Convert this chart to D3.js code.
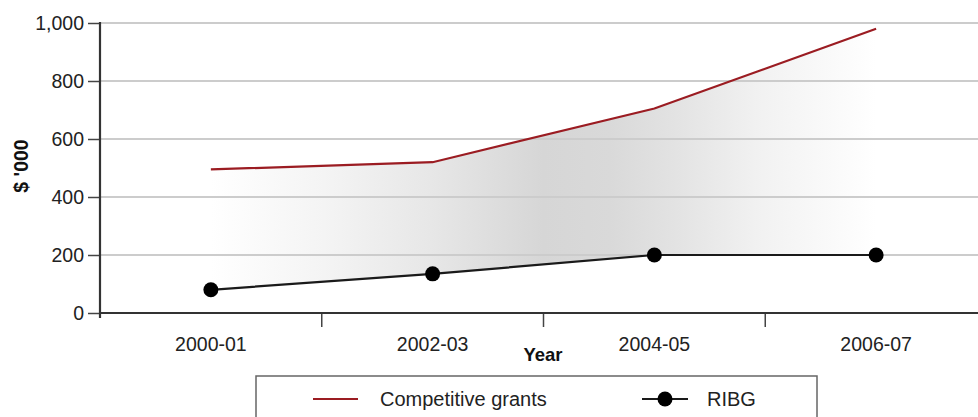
<!DOCTYPE html>
<html><head><meta charset="utf-8">
<script src="https://cdn.jsdelivr.net/npm/d3@7"></script>
<style>body{margin:0;background:#fff}svg{display:block;font-family:"Liberation Sans",Arial,Helvetica,sans-serif}</style>
</head><body><svg id="c" width="978" height="417"></svg>
<script>
const years = ["2000-01","2002-03","2004-05","2006-07"];
const competitive = [495, 520, 705, 980];
const ribg = [80, 135, 200, 200];
const yTicks = [0, 200, 400, 600, 800, 1000];

const svg = d3.select("#c");
const x = d3.scaleBand().domain(years).range([100, 987]).padding(0);
const y = d3.scaleLinear().domain([0, 1000]).range([313, 23]);
const cx = d => x(d) + x.bandwidth() / 2;

const defs = svg.append("defs");
const g = defs.append("linearGradient").attr("id", "shade")
  .attr("gradientUnits", "userSpaceOnUse")
  .attr("x1", cx(years[0])).attr("x2", cx(years[years.length - 1]))
  .attr("y1", 0).attr("y2", 0);
[[0, "#ffffff"], [0.17, "#f4f4f4"], [0.33, "#e7e7e7"], [0.5, "#d6d6d6"], [0.6, "#d9d9d9"], [0.7, "#e3e3e3"], [0.83, "#f2f2f2"], [1, "#ffffff"]]
  .forEach(s => g.append("stop").attr("offset", s[0]).attr("stop-color", s[1]));

// shaded area between series
const rows = years.map((d, i) => ({ d, hi: competitive[i], lo: ribg[i] }));
svg.append("path").datum(rows)
  .attr("fill", "url(#shade)")
  .attr("d", d3.area().x(r => cx(r.d)).y0(r => y(r.lo)).y1(r => y(r.hi)));

// gridlines
svg.append("g").selectAll("line").data(yTicks.filter(t => t > 0)).join("line")
  .attr("x1", 100).attr("x2", 978).attr("y1", d => y(d)).attr("y2", d => y(d))
  .attr("stroke", "#cccccc").attr("stroke-width", 2);

// y axis
const ya = svg.append("g").attr("transform", "translate(100,0)")
  .call(d3.axisLeft(y).tickValues(yTicks).tickFormat(d3.format(",")).tickSize(12).tickPadding(4));
ya.select(".domain").remove();
ya.selectAll(".tick line").attr("stroke", "#444").attr("stroke-width", 1.5);
ya.selectAll("text").attr("font-size", "19.5px").attr("fill", "#222").attr("dy", "0.34em");
svg.append("line").attr("x1", 100).attr("x2", 100).attr("y1", 22).attr("y2", 318)
  .attr("stroke", "#333").attr("stroke-width", 2.2);

// x axis
const xa = svg.append("g").attr("transform", "translate(0,313)")
  .call(d3.axisBottom(x).tickSize(0).tickPadding(24));
xa.select(".domain").remove();
xa.selectAll("text").attr("font-size", "19.5px").attr("fill", "#222");
svg.append("g").selectAll("line").data(years.slice(1)).join("line")
  .attr("x1", d => x(d)).attr("x2", d => x(d)).attr("y1", 313).attr("y2", 327)
  .attr("stroke", "#444").attr("stroke-width", 1.5);
svg.append("line").attr("x1", 99).attr("x2", 978).attr("y1", 313).attr("y2", 313)
  .attr("stroke", "#333").attr("stroke-width", 2.2);

// lines
svg.append("path").datum(competitive)
  .attr("fill", "none").attr("stroke", "#9b1c22").attr("stroke-width", 2.2)
  .attr("d", d3.line().x((v, i) => cx(years[i])).y(v => y(v)));
svg.append("path").datum(ribg)
  .attr("fill", "none").attr("stroke", "#1a1a1a").attr("stroke-width", 2.2)
  .attr("d", d3.line().x((v, i) => cx(years[i])).y(v => y(v)));
svg.append("g").selectAll("circle").data(ribg).join("circle")
  .attr("cx", (v, i) => cx(years[i])).attr("cy", v => y(v)).attr("r", 7.5).attr("fill", "#000");

// axis titles
svg.append("text").attr("x", 543).attr("y", 361).attr("text-anchor", "middle")
  .attr("font-size", "18.5px").attr("font-weight", "bold").attr("fill", "#111").text("Year");
svg.append("text").attr("transform", "translate(28,166) rotate(-90)").attr("text-anchor", "middle")
  .attr("font-size", "19.5px").attr("font-weight", "bold").attr("fill", "#111").text("$ '000");

// legend
svg.append("rect").attr("x", 256).attr("y", 376).attr("width", 561).attr("height", 60)
  .attr("fill", "#fff").attr("stroke", "#666").attr("stroke-width", 1.5);
svg.append("line").attr("x1", 313).attr("x2", 358).attr("y1", 399).attr("y2", 399)
  .attr("stroke", "#9b1c22").attr("stroke-width", 2.2);
svg.append("text").attr("x", 380).attr("y", 406).attr("font-size", "20px").attr("fill", "#222").text("Competitive grants");
svg.append("line").attr("x1", 642).attr("x2", 688).attr("y1", 399).attr("y2", 399)
  .attr("stroke", "#1a1a1a").attr("stroke-width", 2.2);
svg.append("circle").attr("cx", 665).attr("cy", 399).attr("r", 7.5).attr("fill", "#000");
svg.append("text").attr("x", 707).attr("y", 406).attr("font-size", "20px").attr("fill", "#222").text("RIBG");
</script></body></html>
